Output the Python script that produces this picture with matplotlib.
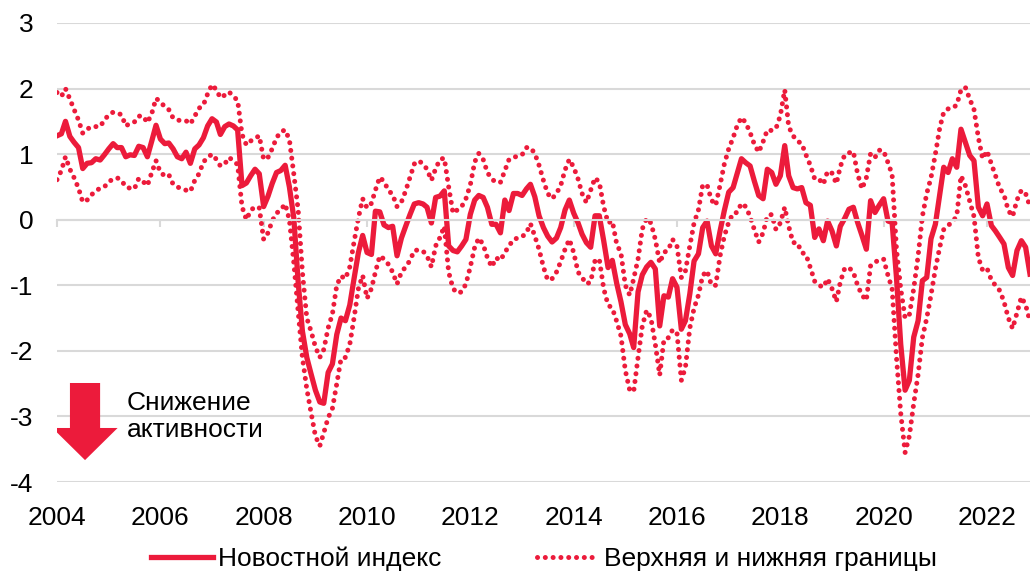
import numpy as np
import pandas as pd
import matplotlib
matplotlib.use("Agg")
import matplotlib.pyplot as plt
from matplotlib.patches import FancyArrow

plt.rcParams['font.family'] = ['Liberation Sans', 'DejaVu Sans']

# monthly values, Jan 2004 .. Nov 2022
news_index = [
    1.28, 1.31, 1.50, 1.27, 1.18, 1.10, 0.78, 0.86, 0.87, 0.93, 0.91, 0.99,
    1.08, 1.16, 1.10, 1.10, 0.96, 0.99, 0.98, 1.12, 1.10, 0.96, 1.20, 1.44,
    1.23, 1.16, 1.17, 1.08, 0.96, 0.93, 1.03, 0.86, 1.08, 1.14, 1.25, 1.43,
    1.54, 1.49, 1.30, 1.42, 1.46, 1.43, 1.37, 0.52, 0.56, 0.67, 0.77, 0.70,
    0.20, 0.36, 0.55, 0.72, 0.75, 0.83, 0.50, 0.03, -0.95, -1.70, -2.10, -2.35,
    -2.60, -2.78, -2.80, -2.33, -2.20, -1.75, -1.50, -1.54, -1.30, -0.90, -0.50, -0.24,
    -0.50, -0.53, 0.13, 0.12, -0.08, -0.12, -0.10, -0.55, -0.28, -0.10, 0.08, 0.24,
    0.26, 0.24, 0.19, -0.05, 0.34, 0.36, 0.44, -0.40, -0.47, -0.49, -0.40, -0.30,
    0.08, 0.30, 0.37, 0.34, 0.19, -0.07, -0.07, -0.20, 0.30, 0.14, 0.40, 0.40,
    0.37, 0.47, 0.54, 0.35, 0.06, -0.12, -0.25, -0.34, -0.28, -0.12, 0.15, 0.30,
    0.10, -0.05, -0.22, -0.35, -0.42, 0.06, 0.06, -0.32, -0.73, -0.62, -0.97, -1.25,
    -1.60, -1.74, -1.95, -1.10, -0.84, -0.72, -0.65, -0.75, -1.62, -1.16, -1.18, -0.90,
    -1.03, -1.67, -1.54, -1.13, -0.63, -0.52, -0.12, -0.02, -0.40, -0.52, -0.17, 0.14,
    0.42, 0.49, 0.70, 0.93, 0.87, 0.82, 0.59, 0.37, 0.32, 0.77, 0.72, 0.54,
    0.67, 1.13, 0.67, 0.49, 0.47, 0.49, 0.26, 0.22, -0.27, -0.14, -0.32, -0.02,
    -0.17, -0.40, -0.10, 0.02, 0.16, 0.19, -0.04, -0.24, -0.45, 0.29, 0.11, 0.22,
    0.32, -0.02, -0.04, -0.88, -1.90, -2.60, -2.45, -1.79, -1.54, -0.93, -0.88, -0.29,
    -0.07, 0.39, 0.80, 0.72, 0.93, 0.80, 1.38, 1.18, 0.98, 0.90, 0.19, 0.06,
    0.24, -0.09, -0.17, -0.27, -0.37, -0.73, -0.85, -0.47, -0.32, -0.42, -0.83,
]

upper = [
    1.94, 1.88, 2.00, 1.84, 1.68, 1.52, 1.32, 1.38, 1.42, 1.42, 1.42, 1.52,
    1.60, 1.64, 1.63, 1.60, 1.43, 1.47, 1.49, 1.58, 1.58, 1.48, 1.62, 1.85,
    1.80, 1.72, 1.68, 1.55, 1.52, 1.51, 1.51, 1.46, 1.58, 1.70, 1.75, 1.92,
    2.06, 1.98, 1.86, 1.90, 1.95, 1.88, 1.82, 1.30, 1.14, 1.20, 1.24, 1.28,
    0.92, 0.95, 1.08, 1.25, 1.34, 1.37, 1.22, 0.70, 0.15, -0.80, -1.50, -1.70,
    -1.94, -2.10, -1.98, -1.65, -1.44, -1.00, -0.86, -0.90, -0.72, -0.34, 0.03, 0.32,
    0.18, 0.25, 0.45, 0.65, 0.58, 0.45, 0.38, 0.20, 0.27, 0.44, 0.65, 0.85,
    0.90, 0.85, 0.77, 0.60, 0.78, 0.92, 0.94, 0.50, 0.10, 0.15, 0.20, 0.32,
    0.53, 0.88, 1.01, 0.92, 0.72, 0.62, 0.57, 0.57, 0.75, 0.92, 0.95, 0.97,
    0.99, 1.10, 1.10, 1.01, 0.83, 0.60, 0.40, 0.32, 0.40, 0.52, 0.76, 0.92,
    0.80, 0.62, 0.40, 0.26, 0.45, 0.64, 0.57, 0.20, -0.05, -0.02, -0.37, -0.51,
    -1.00, -1.15, -0.90, -0.60, -0.14, 0.02, -0.05, -0.30, -0.66, -0.50, -0.46, -0.30,
    -0.40, -0.88, -0.78, -0.40, -0.05, 0.15, 0.53, 0.53, 0.30, 0.22, 0.53, 0.85,
    1.08, 1.25, 1.43, 1.56, 1.48, 1.33, 1.15, 1.03, 1.19, 1.37, 1.36, 1.39,
    1.59, 1.98, 1.42, 1.28, 1.20, 1.16, 0.99, 0.83, 0.62, 0.62, 0.54, 0.74,
    0.71, 0.55, 0.81, 0.99, 1.02, 1.04, 0.70, 0.47, 0.64, 1.01, 0.95, 1.06,
    1.05, 0.87, 0.69, -0.45, -1.05, -1.50, -1.45, -1.05, -0.55, 0.05, 0.40, 0.64,
    1.00, 1.40, 1.64, 1.69, 1.70, 1.75, 1.98, 2.02, 1.84, 1.68, 1.25, 0.93,
    1.05, 0.85, 0.68, 0.48, 0.38, 0.14, 0.05, 0.30, 0.45, 0.40, 0.20,
]

lower = [
    0.61, 0.75, 0.96, 0.77, 0.64, 0.48, 0.27, 0.30, 0.38, 0.44, 0.48, 0.50,
    0.58, 0.62, 0.64, 0.60, 0.50, 0.48, 0.47, 0.63, 0.58, 0.52, 0.72, 0.90,
    0.72, 0.67, 0.69, 0.54, 0.50, 0.47, 0.45, 0.43, 0.60, 0.70, 0.88, 0.95,
    1.00, 0.92, 0.82, 0.85, 0.95, 0.90, 0.84, 0.20, 0.00, 0.14, 0.20, 0.18,
    -0.30, -0.20, -0.02, 0.10, 0.15, 0.24, 0.00, -0.65, -1.40, -2.10, -2.58, -2.94,
    -3.30, -3.45, -3.25, -3.02, -2.88, -2.50, -2.12, -2.10, -1.90, -1.50, -1.05, -0.85,
    -1.20, -1.05, -0.80, -0.55, -0.60, -0.68, -0.80, -0.98, -0.80, -0.72, -0.62, -0.47,
    -0.46, -0.48, -0.55, -0.72, -0.40, -0.27, -0.10, -0.80, -1.05, -1.12, -1.10, -0.98,
    -0.72, -0.42, -0.28, -0.38, -0.58, -0.72, -0.58, -0.62, -0.50, -0.40, -0.30, -0.28,
    -0.26, -0.20, -0.06, -0.25, -0.45, -0.72, -0.92, -0.90, -0.80, -0.64, -0.45, -0.30,
    -0.50, -0.80, -0.88, -0.98, -0.95, -0.62, -0.60, -1.05, -1.30, -1.35, -1.55, -1.77,
    -2.30, -2.60, -2.62, -2.10, -1.62, -1.38, -1.50, -1.90, -2.37, -1.83, -1.80, -1.68,
    -1.72, -2.45, -2.25, -1.65, -1.35, -1.15, -0.85, -0.78, -1.00, -1.00, -0.55, -0.25,
    -0.04, 0.10, 0.11, 0.25, 0.20, 0.05, -0.15, -0.34, -0.20, 0.06, 0.08, -0.15,
    -0.05, 0.19, -0.10, -0.35, -0.35, -0.50, -0.53, -0.73, -0.94, -1.00, -1.03, -0.90,
    -1.05, -1.25, -0.95, -0.74, -0.73, -0.80, -1.00, -1.15, -1.23, -0.70, -0.65, -0.61,
    -0.60, -0.85, -1.05, -2.10, -2.95, -3.55, -3.30, -2.80, -2.36, -1.80, -1.50, -1.15,
    -0.75, -0.42, -0.15, -0.09, -0.03, 0.05, 0.67, 0.52, 0.28, 0.05, -0.58, -0.77,
    -0.74, -0.92, -1.00, -1.08, -1.25, -1.50, -1.66, -1.42, -1.18, -1.30, -1.55,
]

dates = pd.date_range("2004-01-01", periods=len(news_index), freq="MS")
tick_years = [2004, 2006, 2008, 2010, 2012, 2014, 2016, 2018, 2020, 2022]
y_ticks = [3, 2, 1, 0, -1, -2, -3, -4]

red = "#EC1B3B"
grey = "#D9D9D9"
fs = 19

fig = plt.figure(figsize=(10.3, 5.73), dpi=100)
ax = fig.add_axes([57 / 1030, 91 / 573, 973 / 1030, 459 / 573])

ax.plot(dates, upper, color=red, lw=3.6, linestyle=(0, (0.01, 1.55)),
        dash_capstyle="round", label="Верхняя и нижняя границы")
ax.plot(dates, lower, color=red, lw=3.6, linestyle=(0, (0.01, 1.55)),
        dash_capstyle="round")
ax.plot(dates, news_index, color=red, lw=3.8, solid_joinstyle="round",
        label="Новостной индекс")

ax.set_xlim(dates[0], dates[-1])
ax.set_ylim(-4, 3)
ax.set_yticks(y_ticks)
ax.set_yticklabels([str(v) for v in y_ticks], fontsize=fs)
ax.tick_params(axis="y", length=0, pad=17)
ax.grid(axis="y", color=grey, lw=1.5)
ax.set_axisbelow(True)

for s in ["top", "right", "left"]:
    ax.spines[s].set_visible(False)
ax.spines["bottom"].set_position(("data", 0))
ax.spines["bottom"].set_color(grey)
ax.spines["bottom"].set_linewidth(1.5)

tick_dates = [pd.Timestamp(f"{y}-01-01") for y in tick_years]
ax.set_xticks(tick_dates)
ax.tick_params(axis="x", direction="out", length=5, width=1.5, color=grey,
               labelbottom=False)
for d, y in zip(tick_dates, tick_years):
    ax.text(d, -0.078, str(y), transform=ax.get_xaxis_transform(),
            ha="center", va="center", fontsize=fs)

# arrow "Снижение активности"
arr = FancyArrow(0.0288, 0.2157, 0, -0.168, width=0.031, head_width=0.067,
                 head_length=0.07, length_includes_head=True,
                 transform=ax.transAxes, color=red, lw=0)
ax.add_patch(arr)
ax.text(0.072, 0.142, "Снижение\nактивности", transform=ax.transAxes,
        ha="left", va="center", fontsize=fs, linespacing=1.15)

h, l = ax.get_legend_handles_labels()
fig.legend([h[1], h[0]], [l[1], l[0]], loc="center", bbox_to_anchor=(0.528, 0.025),
           ncol=2, frameon=False, fontsize=fs, handlelength=2.35,
           handletextpad=0.2, columnspacing=3.6)

fig.savefig("out.png", dpi=100)
